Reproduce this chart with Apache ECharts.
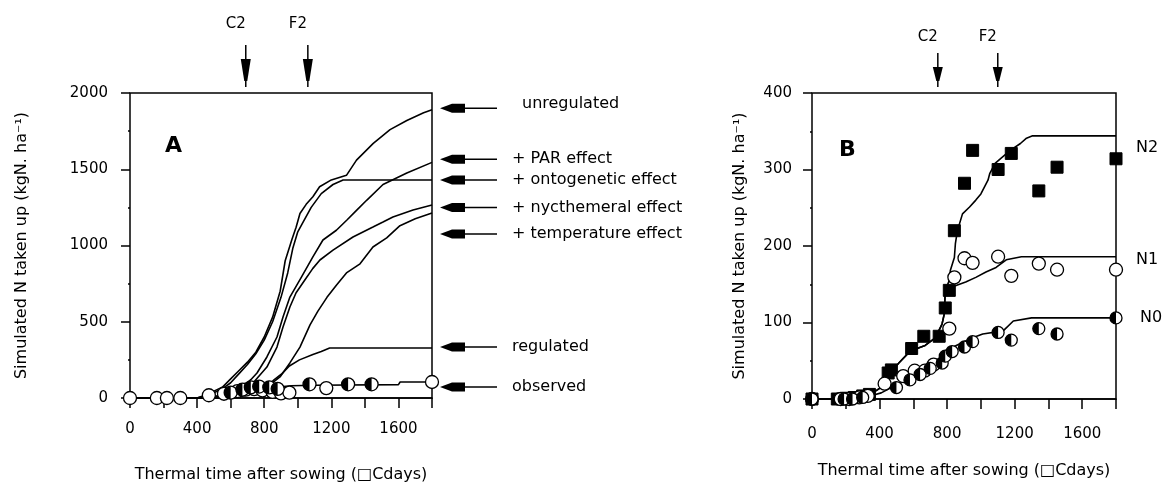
<!DOCTYPE html>
<html><head><meta charset="utf-8">
<script src="https://cdn.jsdelivr.net/npm/echarts@6/dist/echarts.min.js"></script>
<style>html,body{margin:0;padding:0;background:#fff}#c{width:1167px;height:487px}</style>
</head><body><div id="c"></div>
<script>
// ---------- Panel A : simulated N uptake scenarios ----------
const unregulated = [[0,0],[400,0],[450,20],[500,45],[550,70],[600,125],[650,180],[700,235],[750,300],[800,400],[850,530],[895,700],[925,900],[965,1040],[990,1120],[1013,1210],[1050,1270],[1090,1320],[1130,1385],[1200,1430],[1290,1460],[1350,1560],[1450,1670],[1550,1760],[1650,1820],[1750,1870],[1800,1890]];
const ontogenetic = [[0,0],[400,0],[450,15],[500,35],[550,60],[600,100],[650,160],[700,220],[750,290],[800,380],[850,500],[900,660],[940,820],[970,980],[1000,1090],[1030,1150],[1080,1250],[1140,1340],[1210,1400],[1270,1430],[1800,1430]];
const parEffect = [[0,0],[450,0],[550,20],[620,45],[673,72],[720,120],[757,164],[816,269],[876,400],[912,531],[953,662],[1020,790],[1090,925],[1150,1036],[1230,1100],[1293,1167],[1350,1230],[1412,1298],[1508,1400],[1650,1475],[1800,1545]];
const nycthemeral = [[0,0],[500,0],[600,20],[680,50],[733,98],[816,203],[876,334],[912,466],[953,597],[990,690],[1040,770],[1090,850],[1132,905],[1210,970],[1329,1056],[1448,1121],[1508,1154],[1567,1187],[1687,1233],[1800,1265]];
const temperature = [[0,0],[550,0],[650,15],[750,40],[816,72],[894,138],[953,230],[1013,334],[1073,480],[1120,570],[1174,660],[1230,740],[1290,820],[1371,880],[1448,990],[1530,1050],[1609,1130],[1700,1175],[1800,1213]];
const regulated = [[0,0],[550,0],[650,8],[720,25],[770,45],[820,80],[860,120],[906,160],[950,210],[1010,250],[1090,285],[1140,305],[1190,328],[1800,328]];
const observedLineA = [[0,0],[400,0],[500,8],[600,22],[700,42],[800,60],[900,74],[960,80],[1100,84],[1600,88],[1610,105],[1800,105]];
const observedOpenA = [[0,0],[160,0],[220,0],[300,0],[470,18],[560,28],[640,45],[690,55],[740,58],[790,50],[850,40],[900,30],[950,35],[1170,65],[1800,105]];
const observedFillA = [[600,35],[670,55],[720,70],[770,75],[830,70],[880,60],[1070,90],[1300,90],[1440,90]];
const labelsA = ['unregulated','+ PAR effect','+ ontogenetic effect','+ nycthemeral effect','+ temperature effect','regulated','observed'];
const labelLevelsA = [1900,1565,1430,1250,1075,335,72];

// ---------- Panel B : N treatments ----------
const simN2 = [[0,0],[200,0],[300,2],[360,8],[400,14],[450,33],[510,46],[570,60],[610,65],[670,70],[730,80],[770,98],[783,111],[789,142],[813,155],[819,168],[843,185],[849,203],[861,220],[891,242],[933,251],[970,260],[1000,268],[1042,286],[1053,295],[1084,308],[1120,315],[1174,325],[1234,334],[1270,341],[1306,344],[1800,344]];
const simN1 = [[0,0],[200,0],[300,2],[360,8],[400,14],[450,33],[510,46],[570,60],[610,65],[670,70],[730,80],[770,98],[783,111],[789,140],[810,145],[849,148],[910,153],[970,159],[1030,166],[1090,172],[1150,182],[1240,186],[1800,186]];
const simN0 = [[0,0],[200,0],[300,2],[360,5],[410,8],[512,20],[650,33],[728,46],[789,63],[873,72],[951,80],[1011,85],[1132,89],[1192,102],[1300,106],[1800,106]];
const obsN2 = [[0,0],[150,0],[180,0],[210,1],[250,2],[300,4],[340,6],[451,34],[470,38],[590,66],[662,82],[753,82],[789,119],[813,142],[843,220],[903,282],[951,325],[1102,300],[1180,321],[1343,272],[1451,303],[1800,314]];
const obsN1 = [[0,0],[170,0],[220,0],[280,2],[330,4],[430,20],[540,30],[608,37],[668,37],[720,45],[813,92],[843,159],[903,184],[951,178],[1102,186],[1180,161],[1343,177],[1451,169],[1800,169]];
const obsN0 = [[0,0],[190,0],[240,0],[300,2],[500,15],[580,25],[640,32],[700,40],[771,47],[789,56],[830,62],[903,68],[951,75],[1102,87],[1180,77],[1343,92],[1451,85],[1800,106]];
const labelsB = ['N2','N1','N0'];
const labelLevelsB = [330,188,106];

// stage markers (thermal time)
const stagesA = [['C2',690],['F2',1060]];
const stagesB = [['C2',745],['F2',1100]];

const xName = 'Thermal time after sowing (\u25A1Cdays)';
const yName = 'Simulated N taken up (kgN. ha\u207B\u00B9)';
const FONT = 'DejaVu Sans';

const chart = echarts.init(document.getElementById('c'), null, {renderer:'canvas'});
const plain = v => String(v);
const everyOther = v => (v % 400 === 0 && v < 1800) ? String(v) : '';

function xAxis(gi, gap, margin){
  return {type:'value', gridIndex:gi, min:0, max:1800, interval:200,
    name:xName, nameLocation:'middle', nameGap:gap,
    nameTextStyle:{fontFamily:FONT, fontSize:16, color:'#000'},
    axisLine:{show:true, onZero:false, lineStyle:{color:'#000', width:1.5}},
    axisTick:{show:true, inside:false, length:10, lineStyle:{color:'#000', width:1.5}},
    minorTick:{show:false},
    axisLabel:{show:true, margin:margin, formatter:everyOther, fontFamily:FONT, fontSize:15, color:'#000'},
    splitLine:{show:false}, minorSplitLine:{show:false}};
}
function yAxis(gi, max, interval, offset, gap){
  return {type:'value', gridIndex:gi, min:0, max:max, interval:interval, offset:offset,
    name:yName, nameLocation:'middle', nameGap:gap,
    nameTextStyle:{fontFamily:FONT, fontSize:16, color:'#000'},
    axisLine:{show:false},
    axisTick:{show:true, length:9, lineStyle:{color:'#000', width:1.5}},
    minorTick:{show:true, splitNumber:2, length:2, lineStyle:{color:'#000', width:1.5}},
    axisLabel:{show:true, margin:14, formatter:plain, fontFamily:FONT, fontSize:15, color:'#000'},
    splitLine:{show:false}, minorSplitLine:{show:false}};
}
function simLine(name, data, xi){
  return {name:name, type:'line', xAxisIndex:xi, yAxisIndex:xi, data:data, showSymbol:false, symbol:'none',
    lineStyle:{color:'#000', width:1.6, opacity:1}, z:3, animation:false, silent:true};
}
const halfDisk = 'path://M10,0 A10,10 0 0 0 10,20 Z M20,10 L20,10.01';
function openPts(name, data, xi, size){
  return {name:name, type:'scatter', xAxisIndex:xi, yAxisIndex:xi, data:data, symbol:'circle', symbolSize:size,
    itemStyle:{color:'#fff', borderColor:'#000', borderWidth:1.3, opacity:1}, z:4, animation:false, silent:true};
}
function halfPts(name, data, xi, size){
  return {name:name, type:'scatter', xAxisIndex:xi, yAxisIndex:xi, data:data, symbol:halfDisk, symbolSize:size,
    itemStyle:{color:'#000', borderWidth:0, opacity:1}, z:5, animation:false, silent:true};
}

const option = {
  backgroundColor:'#fff',
  animation:false,
  grid:[
    {left:130, top:93, width:302, height:305, show:true, borderColor:'#000', borderWidth:1.5, backgroundColor:'transparent', containLabel:false, outerBoundsMode:'none'},
    {left:812, top:93, width:304, height:306, show:true, borderColor:'#000', borderWidth:1.5, backgroundColor:'transparent', containLabel:false, outerBoundsMode:'none'}
  ],
  xAxis:[xAxis(0, 69, 24), xAxis(1, 64, 28)],
  yAxis:[yAxis(0, 2000, 500, 8, 92), yAxis(1, 400, 100, 6, 58)],
  series:[
    simLine('unregulated', unregulated, 0),
    simLine('+ ontogenetic effect', ontogenetic, 0),
    simLine('+ PAR effect', parEffect, 0),
    simLine('+ nycthemeral effect', nycthemeral, 0),
    simLine('+ temperature effect', temperature, 0),
    simLine('regulated', regulated, 0),
    simLine('observed line', observedLineA, 0),
    openPts('observed', observedOpenA, 0, 13),
    openPts('observed filled', observedFillA, 0, 13),
    halfPts('observed filled half', observedFillA, 0, 13),
    simLine('N2 sim', simN2, 1),
    simLine('N1 sim', simN1, 1),
    simLine('N0 sim', simN0, 1),
    {name:'N2 obs', type:'scatter', xAxisIndex:1, yAxisIndex:1, data:obsN2, symbol:'rect', symbolSize:12,
      itemStyle:{color:'#000', borderColor:'#000', borderWidth:1, opacity:1}, z:4, animation:false, silent:true},
    openPts('N1 obs', obsN1, 1, 13),
    openPts('N0 obs', obsN0, 1, 12),
    halfPts('N0 obs half', obsN0, 1, 12)
  ]
};
chart.setOption(option);

function toPx(si, x, y){ return chart.convertToPixel({seriesIndex:si}, [x, y]); }
const g = [];
const textStyle = (s, extra) => Object.assign({text:s, fontFamily:FONT, fontSize:16, fill:'#000'}, extra||{});

// stage arrows
function stageArrows(stages, si, textDy, shift){
  stages.forEach(([lab, xv]) => {
    const p = toPx(si, xv, 0);
    const top = 93, x = p[0];
    g.push({type:'line', shape:{x1:x, y1:top-48+shift, x2:x, y2:top-6}, style:{stroke:'#000', lineWidth:1.5}});
    g.push({type:'polygon', shape:{points:[[x-5,top-34+shift],[x+5,top-34+shift],[x+1.5,top-12],[x-1.5,top-12]]}, style:{fill:'#000'}});
    g.push({type:'text', x:x-10, y:top-textDy, style:textStyle(lab, {fontSize:15, align:'center', verticalAlign:'middle'})});
  });
}
stageArrows(stagesA, 0, 69, 0);
stageArrows(stagesB, 10, 56, 8);

// right-side annotations panel A
labelsA.forEach((lab, i) => {
  const p = toPx(0, 1800, labelLevelsA[i]);
  const x0 = p[0] + 8, y = p[1];
  g.push({type:'line', shape:{x1:x0+20, y1:y, x2:x0+57, y2:y}, style:{stroke:'#000', lineWidth:1.5}});
  g.push({type:'polygon', shape:{points:[[x0,y],[x0+12,y-4.5],[x0+25,y-4.5],[x0+25,y+4.5],[x0+12,y+4.5]]}, style:{fill:'#000'}});
  g.push({type:'text', x:x0+72+(i===0?10:0), y:y-(i===0?4:0), style:textStyle(lab, {verticalAlign:'middle'})});
});
// right-side labels panel B
const dyB = [1, 5, 0];
labelsB.forEach((lab, i) => {
  const p = toPx(10, 1800, labelLevelsB[i]);
  g.push({type:'text', x:p[0]+20+(i===2?4:0), y:p[1]+dyB[i], style:textStyle(lab, {verticalAlign:'middle'})});
});
// panel letters
const pa = toPx(0, 260, 1650), pb = toPx(10, 210, 325);
g.push({type:'text', x:pa[0], y:pa[1], style:textStyle('A', {fontSize:22, fontWeight:'bold', align:'center', verticalAlign:'middle'})});
g.push({type:'text', x:pb[0], y:pb[1], style:textStyle('B', {fontSize:22, fontWeight:'bold', align:'center', verticalAlign:'middle'})});

chart.setOption({graphic:{elements:g}});
</script></body></html>
